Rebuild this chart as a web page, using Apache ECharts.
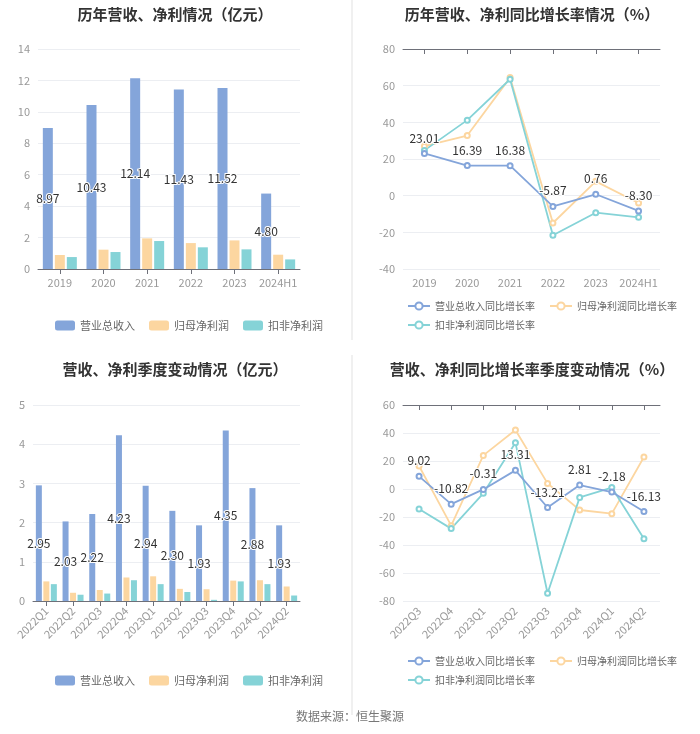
<!DOCTYPE html>
<html><head><meta charset="utf-8">
<script src="https://cdn.jsdelivr.net/npm/echarts@6/dist/echarts.min.js"></script>
<style>html,body{margin:0;padding:0;background:#fff}#c{width:700px;height:734px}</style>
</head><body><div id="c"></div>
<script>
const years = ['2019','2020','2021','2022','2023','2024H1'];
const revYear = [8.97,10.43,12.14,11.43,11.52,4.80];
const npYear = [0.89,1.23,1.95,1.65,1.82,0.91];
const dnpYear = [0.76,1.08,1.78,1.38,1.25,0.61];
const revYoY = [23.01,16.39,16.38,-5.87,0.76,-8.30];
const npYoY = [27.0,32.8,64.4,-14.9,7.8,-4.0];
const dnpYoY = [24.7,41.2,63.5,-21.6,-9.3,-11.8];

const quarters = ['2022Q1','2022Q2','2022Q3','2022Q4','2023Q1','2023Q2','2023Q3','2023Q4','2024Q1','2024Q2'];
const revQ = [2.95,2.03,2.22,4.23,2.94,2.30,1.93,4.35,2.88,1.93];
const npQ = [0.50,0.21,0.28,0.60,0.63,0.31,0.30,0.52,0.53,0.37];
const dnpQ = [0.43,0.16,0.19,0.53,0.43,0.23,0.03,0.50,0.43,0.14];

const quartersYoY = ['2022Q3','2022Q4','2023Q1','2023Q2','2023Q3','2023Q4','2024Q1','2024Q2'];
const revQYoY = [9.02,-10.82,-0.31,13.31,-13.21,2.81,-2.18,-16.13];
const npQYoY = [16.4,-26.2,24.0,42.1,4.0,-15.0,-17.6,22.9];
const dnpQYoY = [-14.3,-28.3,-3.1,33.1,-74.5,-6.0,1.0,-35.5];

const names = ['营业总收入','归母净利润','扣非净利润'];
const lnames = ['营业总收入同比增长率','归母净利润同比增长率','扣非净利润同比增长率'];
const C = ['#84a5da','#fcd6a0','#85d3d7'];
const FONT = '"Noto Sans CJK SC", sans-serif';

const chart = echarts.init(document.getElementById('c'));
const lblStyle = {color:'#333', fontSize:12, textBorderColor:'#fff', textBorderWidth:2, fontFamily:FONT,
  formatter: p => p.value.toFixed(2)};
const axLbl = {color:'#999', fontSize:11, fontFamily:FONT};
const splitL = {lineStyle:{color:'#eceef2'}};

function catAxis(idx, data, rotate, labels, extra){
  return Object.assign({type:'category', gridIndex:idx, data:data,
    axisLine:{show:true, lineStyle:{color:'#6e7079'}},
    axisTick:{show:true, alignWithLabel:true, lineStyle:{color:'#6e7079'}},
    axisLabel:Object.assign({}, axLbl, {rotate:rotate||0, margin:8, interval:0, show:labels!==false})}, extra||{});
}
function valAxis(idx, min, max, interval){
  return {type:'value', gridIndex:idx, min:min, max:max, interval:interval,
    axisLine:{show:false}, axisTick:{show:false}, axisLabel:axLbl, splitLine:splitL};
}
function bars(xi, yi, data, k, withLabel, bw, gap){
  return {type:'bar', name:names[k], xAxisIndex:xi, yAxisIndex:yi, data:data,
    barWidth:bw, barGap:gap, itemStyle:{color:C[k]},
    label: withLabel ? Object.assign({show:true, position:'inside'}, lblStyle) : {show:false}};
}
function line(xi, yi, data, k, withLabel){
  return {type:'line', name:lnames[k], xAxisIndex:xi, yAxisIndex:yi, data:data,
    symbol:'emptyCircle', symbolSize:5, itemStyle:{color:C[k]}, lineStyle:{color:C[k], width:1.8},
    label: withLabel ? Object.assign({show:true, position:'top', distance:6}, lblStyle) : {show:false}, z: withLabel?5:3};
}
const titleStyle = {fontSize:15, fontWeight:'bold', color:'#333', fontFamily:FONT};
const legStyle = {fontSize:11, color:'#666', fontFamily:FONT};
const legStyleS = {fontSize:10, color:'#666', fontFamily:FONT};

const option = {
  animation:false,
  textStyle:{fontFamily:FONT},
  title:[
    {text:'历年营收、净利情况（亿元）', left:170, top:2, textAlign:'center', textStyle:titleStyle},
    {text:'历年营收、净利同比增长率情况（%）', left:527, top:2, textAlign:'center', textStyle:titleStyle},
    {text:'营收、净利季度变动情况（亿元）', left:170, top:357, textAlign:'center', textStyle:titleStyle},
    {text:'营收、净利同比增长率季度变动情况（%）', left:527, top:357, textAlign:'center', textStyle:titleStyle}
  ],
  legend:[
    {data:names, left:50, top:315, itemWidth:20, itemHeight:10, itemGap:14, icon:'roundRect', textStyle:legStyle},
    {data:[lnames[0], lnames[1]], left:402, top:296, itemWidth:22, itemHeight:9, itemGap:14, textStyle:legStyleS},
    {data:[lnames[2]], left:402, top:315, itemWidth:22, itemHeight:9, itemGap:14, textStyle:legStyleS},
    {data:names, left:50, top:670, itemWidth:20, itemHeight:10, itemGap:14, icon:'roundRect', textStyle:legStyle},
    {data:[lnames[0], lnames[1]], left:402, top:651, itemWidth:22, itemHeight:9, itemGap:14, textStyle:legStyleS},
    {data:[lnames[2]], left:402, top:670, itemWidth:22, itemHeight:9, itemGap:14, textStyle:legStyleS}
  ],
  grid:[
    {left:38, top:49, width:262, height:220},
    {left:403, top:49, width:257, height:220},
    {left:33, top:405, width:267, height:196},
    {left:403, top:405, width:257, height:196}
  ],
  xAxis:[
    catAxis(0, years),
    catAxis(1, years, 0, true, {axisLine:{show:false}, axisTick:{show:false}, position:'bottom'}),
    catAxis(1, years, 0, false, {position:'top', axisLine:{show:true, onZero:true, lineStyle:{color:'#6e7079'}}, axisTick:{show:true, inside:true, alignWithLabel:true, lineStyle:{color:'#6e7079'}}}),
    catAxis(2, quarters, 45),
    catAxis(3, quartersYoY, 45, true, {axisLine:{show:false}, axisTick:{show:false}, position:'bottom'}),
    catAxis(3, quartersYoY, 0, false, {position:'top', axisLine:{show:true, onZero:true, lineStyle:{color:'#6e7079'}}, axisTick:{show:true, inside:true, alignWithLabel:true, lineStyle:{color:'#6e7079'}}})
  ],
  yAxis:[
    valAxis(0, 0, 14, 2),
    valAxis(1, -40, 80, 20),
    valAxis(2, 0, 5, 1),
    valAxis(3, -80, 60, 20)
  ],
  graphic:[
    {type:'line', shape:{x1:352, y1:0, x2:352, y2:340}, style:{stroke:'#f0f0f0', lineWidth:2}},
    {type:'line', shape:{x1:352, y1:355, x2:352, y2:715}, style:{stroke:'#f0f0f0', lineWidth:2}},
    {type:'text', left:'center', top:710, style:{text:'数据来源：恒生聚源', fill:'#777', fontSize:12, fontFamily:FONT}}
  ],
  series:[
    bars(0,0,revYear,0,true,10,'20%'),
    bars(0,0,npYear,1,false,10,'20%'),
    bars(0,0,dnpYear,2,false,10,'20%'),
    line(1,1,npYoY,1,false),
    line(1,1,dnpYoY,2,false),
    line(1,1,revYoY,0,true),
    bars(3,2,revQ,0,true,6,'25%'),
    bars(3,2,npQ,1,false,6,'25%'),
    bars(3,2,dnpQ,2,false,6,'25%'),
    line(4,3,npQYoY,1,false),
    line(4,3,dnpQYoY,2,false),
    line(4,3,revQYoY,0,true)
  ]
};
chart.setOption(option);
</script></body></html>
